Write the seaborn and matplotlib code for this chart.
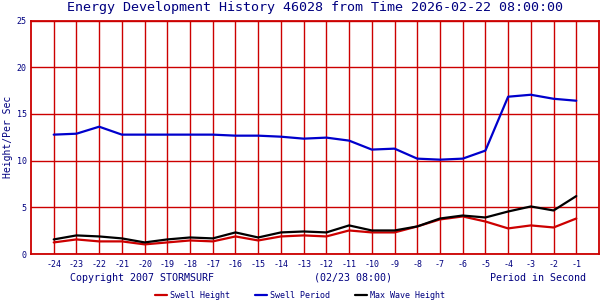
import matplotlib
matplotlib.use("Agg")
import matplotlib.pyplot as plt
import seaborn as sns
import pandas as pd

hours = [-24, -23, -22, -21, -20, -19, -18, -17, -16, -15, -14, -13,
         -12, -11, -10, -9, -8, -7, -6, -5, -4, -3, -2, -1]
swell_height = [1.24, 1.56, 1.35, 1.35, 1.03, 1.24, 1.45, 1.35, 1.88, 1.45, 1.88, 1.99,
                1.88, 2.52, 2.31, 2.31, 2.95, 3.70, 4.02, 3.48, 2.74, 3.06, 2.84, 3.80]
swell_period = [12.78, 12.88, 13.63, 12.78, 12.78, 12.78, 12.78, 12.78, 12.67, 12.67, 12.56, 12.35,
                12.46, 12.14, 11.18, 11.28, 10.21, 10.10, 10.21, 11.07, 16.84, 17.05, 16.62, 16.41]
max_wave = [1.56, 1.99, 1.88, 1.67, 1.24, 1.56, 1.77, 1.67, 2.31, 1.77, 2.31, 2.41,
            2.31, 3.06, 2.52, 2.52, 2.95, 3.80, 4.12, 3.91, 4.55, 5.09, 4.66, 6.20]
series_names = ["Swell Height", "Swell Period", "Max Wave Height"]
xtick_labels = [str(h) for h in hours]
yticks = [0, 5, 10, 15, 20, 25]

df = pd.concat([
    pd.DataFrame({"hour": hours, "value": swell_height, "series": series_names[0]}),
    pd.DataFrame({"hour": hours, "value": swell_period, "series": series_names[1]}),
    pd.DataFrame({"hour": hours, "value": max_wave, "series": series_names[2]}),
])

sns.set_style("white")
plt.rcParams["font.family"] = ["DejaVu Sans Mono", "DejaVu Sans"]
navy = "#000080"
gridred = "#cc0000"

fig = plt.figure(figsize=(6, 3), dpi=100)
ax = fig.add_axes([31/600, 1 - 254/300, 568/600, (254 - 20.5)/300])

palette = {"Swell Height": "#cc0000", "Swell Period": "#0000cc", "Max Wave Height": "#000000"}
sns.lineplot(data=df, x="hour", y="value", hue="series", palette=palette,
             linewidth=1.6, ax=ax, legend=True, zorder=3)

ax.set_xlim(-25, 0)
ax.set_ylim(0, 25)
ax.set_xticks(hours)
ax.set_xticklabels(xtick_labels)
ax.set_yticks(yticks)
ax.set_yticklabels([str(t) for t in yticks])
ax.tick_params(axis="both", colors=navy, labelsize=6, length=0, pad=4)
ax.tick_params(axis="y", pad=3)
for lab in ax.get_xticklabels() + ax.get_yticklabels():
    lab.set_color(navy)
ax.grid(True, color=gridred, linewidth=1.0, zorder=1)
ax.set_axisbelow(True)
for s in ax.spines.values():
    s.set_color(gridred)
    s.set_linewidth(1.3)
ax.set_xlabel("")
ax.set_ylabel("Height/Per Sec", color=navy, fontsize=7, labelpad=3)

fig.text(315/600, 1 - 8/300, "Energy Development History 46028 from Time 2026-02-22 08:00:00",
         ha="center", va="center", color=navy, fontsize=9.6)
fig.text(70/600, 1 - 278/300, "Copyright 2007 STORMSURF", ha="left", va="center",
         color=navy, fontsize=7.2)
fig.text(353/600, 1 - 278/300, "(02/23 08:00)", ha="center", va="center",
         color=navy, fontsize=7.2)
fig.text(586/600, 1 - 278/300, "Period in Second", ha="right", va="center",
         color=navy, fontsize=7.2)

sns.move_legend(ax, "center", bbox_to_anchor=(300/600, 1 - 295/300),
                bbox_transform=fig.transFigure, ncol=3, frameon=False, title=None,
                fontsize=6, handlelength=1.4, columnspacing=3.0, handletextpad=0.4)
for t in ax.get_legend().get_texts():
    t.set_color(navy)

fig.savefig("out.png", dpi=100)
